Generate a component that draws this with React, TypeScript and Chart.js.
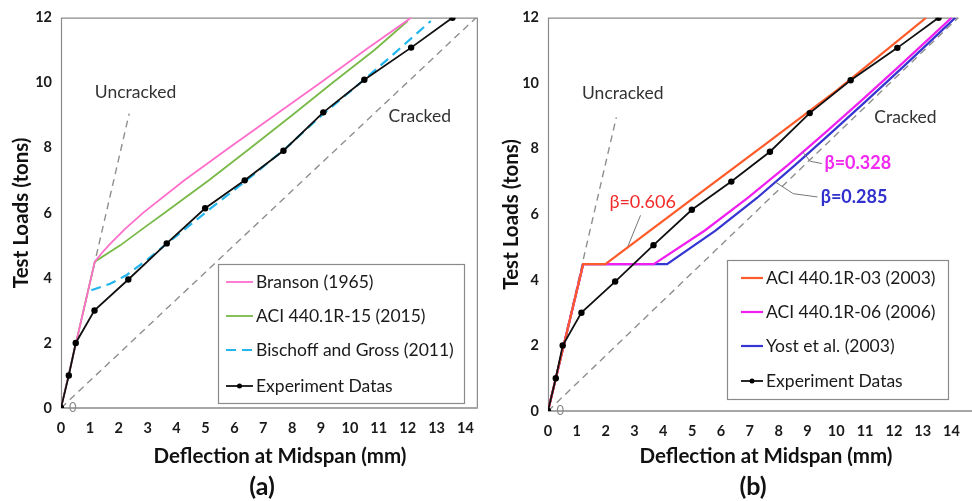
import React, { useEffect, useRef } from "react";
import { Chart, registerables } from "chart.js";

Chart.register(...registerables);

const FONT = "Lato, 'Liberation Sans', 'DejaVu Sans', sans-serif";

// ---------------- data ----------------
const X_TICKS = [0, 1, 2, 3, 4, 5, 6, 7, 8, 9, 10, 11, 12, 13, 14];
const Y_TICKS = [0, 2, 4, 6, 8, 10, 12];

const EXP_DEFLECTION = [0, 0.27, 0.51, 1.16, 2.33, 3.66, 4.99, 6.36, 7.7, 9.08, 10.5, 12.12, 13.55];
const EXP_LOAD = [0, 1.0, 2.0, 3.0, 3.95, 5.06, 6.14, 7.0, 7.91, 9.09, 10.09, 11.08, 12.0];

// panel (a)
const BRANSON_DEFLECTION = [0, 1.17, 1.4, 1.65, 2.21, 2.84, 4.27, 5.82, 7.4, 8.98, 10.52, 12.12];
const BRANSON_LOAD = [0, 4.5, 4.75, 5.0, 5.5, 6.0, 7.0, 8.0, 9.0, 10.0, 11.0, 12.0];

const ACI15_DEFLECTION = [0, 1.17, 2.05, 2.81, 3.59, 5.12, 6.57, 8.0, 9.4, 10.84, 12.0];
const ACI15_LOAD = [0, 4.5, 5.0, 5.5, 6.0, 7.0, 8.0, 9.0, 10.0, 11.0, 11.9];

const BG_DEFLECTION = [1.05, 1.7, 2.26, 2.9, 3.7, 4.43, 5.2, 6.38, 7.76, 9.05, 10.5, 11.6, 12.8];
const BG_LOAD = [3.62, 3.82, 4.08, 4.5, 5.08, 5.6, 6.15, 6.97, 7.97, 9.02, 10.1, 10.95, 11.9];

const UNCRACKED_A_DEFLECTION = [0, 2.36];
const UNCRACKED_A_LOAD = [0, 9.05];
const CRACKED_A_DEFLECTION = [0, 14.37];
const CRACKED_A_LOAD = [0, 12.0];

// panel (b)
const ACI03_DEFLECTION = [0, 1.22, 1.99, 5.1, 7.5, 10.02, 13.12];
const ACI03_LOAD = [0, 4.48, 4.48, 6.53, 8.11, 9.78, 12.0];

const ACI06_DEFLECTION = [0, 1.22, 3.67, 5.43, 6.93, 8.32, 9.63, 10.91, 12.16, 13.39, 14.0];
const ACI06_LOAD = [0, 4.48, 4.48, 5.5, 6.5, 7.5, 8.5, 9.5, 10.5, 11.5, 12.0];

const YOST_DEFLECTION = [0, 1.22, 4.13, 5.81, 7.25, 8.57, 9.84, 11.09, 12.32, 13.53, 14.13];
const YOST_LOAD = [0, 4.48, 4.48, 5.5, 6.5, 7.5, 8.5, 9.5, 10.5, 11.5, 12.0];

const UNCRACKED_B_DEFLECTION = [0, 2.37];
const UNCRACKED_B_LOAD = [0, 8.96];
const CRACKED_B_DEFLECTION = [0, 14.23];
const CRACKED_B_LOAD = [0, 12.0];

const LEGEND_A = ["Branson (1965)", "ACI 440.1R-15 (2015)", "Bischoff and Gross (2011)", "Experiment Datas"];
const LEGEND_B = ["ACI 440.1R-03 (2003)", "ACI 440.1R-06 (2006)", "Yost et al. (2003)", "Experiment Datas"];

// ---------------- helpers ----------------
function series(label: string, xs: number[], ys: number[], color: string, width: number, extra: any = {}) {
  return {
    label,
    data: xs.map((x, i) => ({ x, y: ys[i] })),
    borderColor: color,
    backgroundColor: color,
    borderWidth: width,
    showLine: true,
    pointRadius: 0,
    pointHoverRadius: 0,
    tension: 0,
    ...extra,
  };
}

function experiment() {
  return series("Experiment Datas", EXP_DEFLECTION, EXP_LOAD, "#111111", 1.8, {
    pointRadius: 3.2,
    pointBackgroundColor: "#000",
    pointBorderWidth: 0,
  });
}

const GRAY_DASH = "#8f8f8f";

type Txt = { x: number; y: number; text: string; color: string; size: number; weight?: string; align?: CanvasTextAlign };
type PanelSpec = {
  key: string;
  xMax: number;
  padRight: number;
  yAxisWidth: number;
  xAxisHeight: number;
  rightBorder: boolean;
  bottomToEdge: boolean;
  datasets: any[];
  legendLabels: string[];
  legend: { left: number; top: number; right: number; bottom: number; rows: number[]; sx0: number; sx1: number; tx: number };
  texts: Txt[];
  leaders: { pts: number[][]; color: string }[];
  xTitle: { cx: number; cy: number };
  yTitle: { cx: number };
  panel: { text: string; cx: number; cy: number };
};

function makeDecor(spec: PanelSpec) {
  return {
    id: "decor" + spec.key,
    beforeDatasetsDraw(chart: any) {
      const { ctx, chartArea: a } = chart;
      ctx.save();
      ctx.strokeStyle = "#8a8a8a";
      ctx.lineWidth = 1.2;
      ctx.beginPath();
      ctx.moveTo(a.left + 0.5, a.bottom);
      ctx.lineTo(a.left + 0.5, a.top + 0.5);
      ctx.lineTo(a.right - 0.5, a.top + 0.5);
      if (spec.rightBorder) ctx.lineTo(a.right - 0.5, a.bottom);
      ctx.stroke();
      ctx.strokeStyle = "#a6a6a6";
      ctx.lineWidth = 2;
      ctx.beginPath();
      ctx.moveTo(a.left, a.bottom);
      ctx.lineTo(spec.bottomToEdge ? chart.width : a.right, a.bottom);
      ctx.stroke();
      ctx.restore();
    },
    afterDatasetsDraw(chart: any) {
      const { ctx } = chart;
      const xs = chart.scales.x;
      const ys = chart.scales.y;
      ctx.save();
      // leader lines
      for (const l of spec.leaders) {
        ctx.strokeStyle = l.color;
        ctx.lineWidth = 1;
        ctx.beginPath();
        l.pts.forEach((p, i) => {
          const px = xs.getPixelForValue(p[0]);
          const py = ys.getPixelForValue(p[1]);
          if (i === 0) ctx.moveTo(px, py);
          else ctx.lineTo(px, py);
        });
        ctx.stroke();
      }
      // legend box
      const L = spec.legend;
      ctx.fillStyle = "#fff";
      ctx.fillRect(L.left, L.top, L.right - L.left, L.bottom - L.top);
      ctx.strokeStyle = "#8a8a8a";
      ctx.lineWidth = 1.2;
      ctx.strokeRect(L.left + 0.5, L.top + 0.5, L.right - L.left, L.bottom - L.top);
      spec.legendLabels.forEach((lab, i) => {
        const ds = spec.datasets.find((d) => d.label === lab);
        const y = L.rows[i];
        ctx.strokeStyle = ds.borderColor;
        ctx.lineWidth = ds.borderWidth;
        ctx.setLineDash(ds.borderDash || []);
        ctx.beginPath();
        ctx.moveTo(L.sx0, y);
        ctx.lineTo(L.sx1, y);
        ctx.stroke();
        ctx.setLineDash([]);
        if (ds.pointRadius > 0) {
          ctx.fillStyle = "#000";
          ctx.beginPath();
          ctx.arc((L.sx0 + L.sx1) / 2, y, 2.5, 0, Math.PI * 2);
          ctx.fill();
        }
        ctx.fillStyle = "#1a1a1a";
        ctx.font = `17.5px ${FONT}`;
        ctx.textAlign = "left";
        ctx.textBaseline = "middle";
        ctx.fillText(lab, L.tx, y);
      });
      ctx.restore();
    },
    afterDraw(chart: any) {
      const { ctx, chartArea: a } = chart;
      const xs = chart.scales.x;
      const ys = chart.scales.y;
      ctx.save();
      for (const t of spec.texts) {
        ctx.fillStyle = t.color;
        ctx.font = `${t.weight || "normal"} ${t.size}px ${FONT}`;
        ctx.textAlign = t.align || "left";
        ctx.textBaseline = "middle";
        ctx.fillText(t.text, xs.getPixelForValue(t.x), ys.getPixelForValue(t.y));
      }
      ctx.fillStyle = "#111";
      ctx.textAlign = "center";
      ctx.textBaseline = "middle";
      ctx.font = `bold 20.5px ${FONT}`;
      ctx.fillText("Deflection at Midspan (mm)", spec.xTitle.cx, spec.xTitle.cy);
      ctx.save();
      ctx.translate(spec.yTitle.cx, (a.top + a.bottom) / 2);
      ctx.rotate(-Math.PI / 2);
      ctx.fillText("Test Loads (tons)", 0, 0);
      ctx.restore();
      ctx.font = `bold 25px ${FONT}`;
      ctx.fillText(spec.panel.text, spec.panel.cx, spec.panel.cy);
      ctx.restore();
    },
  };
}

function buildConfig(spec: PanelSpec): any {
  const tickFont = { family: FONT, size: 14.5, weight: "bold" as const };
  return {
    type: "scatter",
    data: { datasets: spec.datasets },
    options: {
      responsive: false,
      animation: false,
      devicePixelRatio: 1,
      events: [],
      layout: { padding: { left: 0, right: spec.padRight, top: 17, bottom: 0 } },
      plugins: { legend: { display: false }, tooltip: { enabled: false } },
      scales: {
        x: {
          type: "linear",
          min: 0,
          max: spec.xMax,
          grid: { display: false, drawTicks: false },
          border: { display: false },
          afterBuildTicks: (s: any) => {
            s.ticks = X_TICKS.map((v) => ({ value: v }));
          },
          afterFit: (s: any) => {
            s.height = spec.xAxisHeight;
          },
          ticks: { font: tickFont, color: "#1a1a1a", padding: 12, maxRotation: 0, autoSkip: false },
        },
        y: {
          type: "linear",
          min: 0,
          max: 12,
          grid: { display: false, drawTicks: false },
          border: { display: false },
          afterBuildTicks: (s: any) => {
            s.ticks = Y_TICKS.map((v) => ({ value: v }));
          },
          afterFit: (s: any) => {
            s.width = spec.yAxisWidth;
          },
          ticks: { font: tickFont, color: "#1a1a1a", padding: 9, autoSkip: false },
        },
      },
    },
    plugins: [makeDecor(spec)],
  };
}

const SPEC_A: PanelSpec = {
  key: "a",
  xMax: 14.43,
  padRight: 5,
  yAxisWidth: 61,
  xAxisHeight: 93,
  rightBorder: true,
  bottomToEdge: false,
  datasets: [
    experiment(),
    series("Bischoff and Gross (2011)", BG_DEFLECTION, BG_LOAD, "#22b5ee", 2.2, { borderDash: [10, 6] }),
    series("Branson (1965)", BRANSON_DEFLECTION, BRANSON_LOAD, "#ff6ecb", 1.8),
    series("ACI 440.1R-15 (2015)", ACI15_DEFLECTION, ACI15_LOAD, "#78b948", 1.8),
    series("Uncracked", UNCRACKED_A_DEFLECTION, UNCRACKED_A_LOAD, GRAY_DASH, 1.4, { borderDash: [7, 5] }),
    series("Cracked", CRACKED_A_DEFLECTION, CRACKED_A_LOAD, GRAY_DASH, 1.4, { borderDash: [7, 5] }),
  ],
  legendLabels: LEGEND_A,
  legend: { left: 218, top: 264, right: 464, bottom: 403, rows: [282, 316, 350, 386], sx0: 226, sx1: 253, tx: 256 },
  texts: [
    { x: 1.17, y: 9.69, text: "Uncracked", color: "#333", size: 17.5 },
    { x: 11.34, y: 8.96, text: "Cracked", color: "#333", size: 17.5 },
    { x: 0.41, y: 0, text: "0", color: "#8a8a8a", size: 13, align: "center" },
  ],
  leaders: [],
  xTitle: { cx: 280, cy: 456 },
  yTitle: { cx: 21 },
  panel: { text: "(a)", cx: 262, cy: 487 },
};

const SPEC_B: PanelSpec = {
  key: "b",
  xMax: 14.26,
  padRight: 2,
  yAxisWidth: 62,
  xAxisHeight: 90,
  rightBorder: false,
  bottomToEdge: true,
  datasets: [
    experiment(),
    series("ACI 440.1R-03 (2003)", ACI03_DEFLECTION, ACI03_LOAD, "#ff5a2a", 2.2),
    series("ACI 440.1R-06 (2006)", ACI06_DEFLECTION, ACI06_LOAD, "#f01ff0", 2.2),
    series("Yost et al. (2003)", YOST_DEFLECTION, YOST_LOAD, "#3535d2", 2.2),
    series("Uncracked", UNCRACKED_B_DEFLECTION, UNCRACKED_B_LOAD, GRAY_DASH, 1.4, { borderDash: [7, 5] }),
    series("Cracked", CRACKED_B_DEFLECTION, CRACKED_B_LOAD, GRAY_DASH, 1.4, { borderDash: [7, 5] }),
  ],
  legendLabels: LEGEND_B,
  legend: { left: 241, top: 260, right: 462, bottom: 399, rows: [278, 312, 346, 381], sx0: 255, sx1: 277, tx: 280 },
  texts: [
    { x: 1.18, y: 9.69, text: "Uncracked", color: "#333", size: 17.5 },
    { x: 11.32, y: 8.96, text: "Cracked", color: "#333", size: 17.5 },
    { x: 0.43, y: 0, text: "0", color: "#8a8a8a", size: 13, align: "center" },
    { x: 2.13, y: 6.37, text: "β=0.606", color: "#f22a2a", size: 18 },
    { x: 9.59, y: 7.55, text: "β=0.328", color: "#f02af0", size: 18, weight: "bold" },
    { x: 9.46, y: 6.52, text: "β=0.285", color: "#3030cc", size: 18, weight: "bold" },
  ],
  leaders: [
    { pts: [[3.21, 5.97], [2.77, 5.02]], color: "#777" },
    { pts: [[8.84, 7.9], [9.1, 7.62], [9.5, 7.55]], color: "#777" },
    { pts: [[7.9, 6.98], [8.51, 6.63], [9.35, 6.53]], color: "#777" },
  ],
  xTitle: { cx: 280, cy: 456 },
  yTitle: { cx: 25 },
  panel: { text: "(b)", cx: 267, cy: 487 },
};

function Panel({ spec }: { spec: PanelSpec }) {
  const ref = useRef<HTMLCanvasElement>(null);
  useEffect(() => {
    const chart = new Chart(ref.current as HTMLCanvasElement, buildConfig(spec));
    return () => chart.destroy();
  }, [spec]);
  return <canvas ref={ref} width={486} height={501} style={{ display: "block", width: 486, height: 501 }} />;
}

export default function App() {
  return (
    <div style={{ position: "fixed", left: 0, top: 0, width: 972, height: 501, display: "flex", background: "#fff" }}>
      <Panel spec={SPEC_A} />
      <Panel spec={SPEC_B} />
    </div>
  );
}
